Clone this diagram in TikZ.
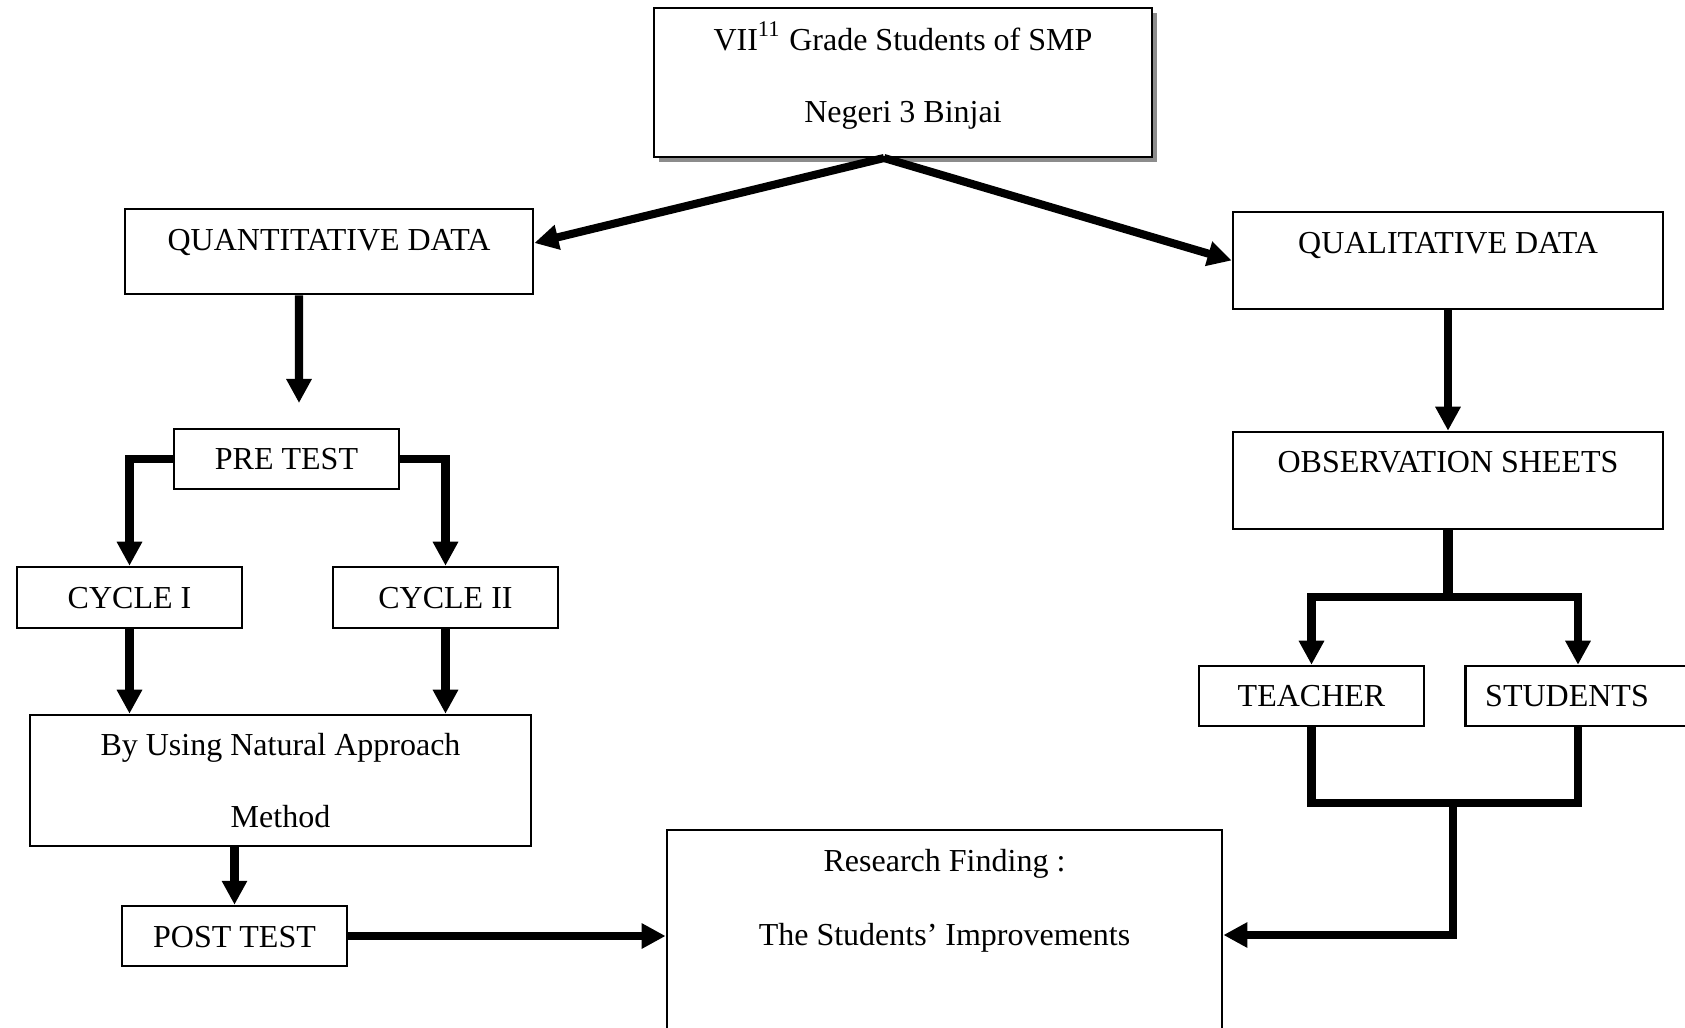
\documentclass[tikz,border=0pt]{standalone}
\usepackage{fontspec}
\setmainfont{Liberation Serif}
\usetikzlibrary{arrows.meta,shadows}
\begin{document}
\begin{tikzpicture}[x=0.01cm,y=-0.01cm,>={Triangle[length=0.24cm,width=0.24cm]},
	box/.style={draw,line width=0.7pt,inner sep=0pt},
	txt/.style={inner sep=0pt,anchor=base,font=\fontsize{9.1}{11}\selectfont},
	link/.style={line width=2.3pt}]
	\useasboundingbox (0,0) rectangle (1685,1027);
	\clip (0,0) rectangle (1685,1027);
	\def\smallw{2.25cm}\def\smallh{0.6cm}
	\node[box,minimum width=4.98cm,minimum height=1.49cm,
		drop shadow={shadow xshift=0.05cm,shadow yshift=-0.05cm,fill=black!45,opacity=1},fill=white] (top) at (903,82.5) {};
	\node[txt] (toptxta) at (903,50) {VII\textsuperscript{11} Grade Students of SMP};
	\node[txt] (toptxtb) at (903,122) {Negeri 3 Binjai};
	\node[box,minimum width=4.08cm,minimum height=0.85cm] (quant) at (329,251.5) {};
	\node[txt] (quanttxt) at (329,250) {QUANTITATIVE DATA};
	\node[box,minimum width=4.3cm,minimum height=0.97cm] (qual) at (1448,260.5) {};
	\node[txt] (qualtxt) at (1448,253) {QUALITATIVE DATA};
	\node[box,minimum width=4.3cm,minimum height=0.97cm] (obs) at (1448,480.5) {};
	\node[txt] (obstxt) at (1448,472) {OBSERVATION SHEETS};
	\node[box,minimum width=\smallw,minimum height=\smallh] (teach) at (1311.5,696) {};
	\node[txt] (teachtxt) at (1311.5,706) {TEACHER};
	\node[box,minimum width=\smallw,minimum height=\smallh] (stud) at (1578,696) {};
	\node[txt] (studtxt) at (1567,706) {STUDENTS};
	\node[box,minimum width=\smallw,minimum height=\smallh] (pretest) at (286.5,459) {};
	\node[txt] (pretesttxt) at (286.5,469) {PRE TEST};
	\node[box,minimum width=\smallw,minimum height=0.61cm] (cycA) at (129.5,597.5) {};
	\node[txt] (cycAtxt) at (129.5,608) {CYCLE I};
	\node[box,minimum width=\smallw,minimum height=0.61cm] (cycB) at (445.5,597.5) {};
	\node[txt] (cycBtxt) at (445.5,608) {CYCLE II};
	\node[box,minimum width=5.01cm,minimum height=1.31cm] (method) at (280.5,780.5) {};
	\node[txt] (methodtxta) at (280.5,755) {By Using Natural Approach};
	\node[txt] (methodtxtb) at (280.5,827) {Method};
	\node[box,minimum width=\smallw,minimum height=\smallh] (post) at (234.5,936) {};
	\node[txt] (posttxt) at (234.5,947) {POST TEST};
	\node[box,minimum width=5.55cm,minimum height=2.1cm] (research) at (944.5,935) {};
	\node[txt] (researchtxta) at (944.5,871) {Research Finding :};
	\node[txt] (researchtxtb) at (944.5,945) {The Students’ Improvements};
	\coordinate (apex) at (884,158);
	\coordinate (pregap) at (299,403);
	\coordinate (obsjoin) at (1448,597);
	\coordinate (resjoin) at (1453,803);
	\draw[link,->] (apex) -- ([yshift=0.085cm]quant.east);
	\draw[link,->] (apex) -- (qual.west);
	\draw[link,->] ([xshift=-0.3cm]quant.south) -- (pregap);
	\draw[link,->] (pretest.west) -| (cycA.north);
	\draw[link,->] (pretest.east) -| (cycB.north);
	\draw[link,->] (cycA.south) -- (cycA.south |- method.north);
	\draw[link,->] (cycB.south) -- (cycB.south |- method.north);
	\draw[link,->] (post.north |- method.south) -- (post.north);
	\draw[link,->] (post.east) -- (post.east -| research.west);
	\draw[link,->] (qual.south) -- (obs.north);
	\draw[link,line width=3pt] (obs.south) -- (obsjoin);
	\draw[link,->] (obsjoin) -| (teach.north);
	\draw[link,->] (obsjoin) -| (stud.north);
	\draw[link] (teach.south) |- (resjoin) -| (stud.south);
	\draw[link,->] (resjoin) |- (research.east);
\end{tikzpicture}
\end{document}
